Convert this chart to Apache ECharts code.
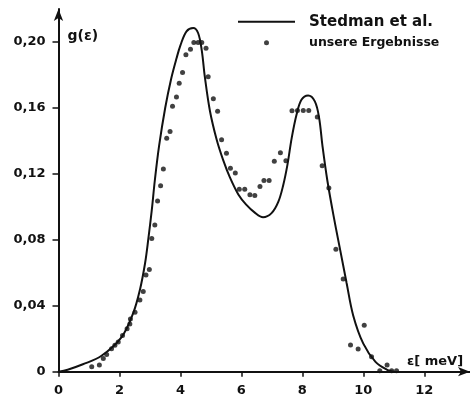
<!DOCTYPE html>
<html>
<head>
<meta charset="utf-8">
<script src="https://cdn.jsdelivr.net/npm/echarts@6/dist/echarts.min.js"></script>
<style>html,body{margin:0;padding:0;background:#fff}#c{width:470px;height:400px}</style>
</head>
<body>
<div id="c"></div>
<script>
// Stedman et al. (solid curve)
const curveX = [0, 0.3, 0.8, 1.4, 2.07, 2.45, 2.67, 2.84, 2.95, 3.06, 3.16, 3.3, 3.5, 3.7, 3.87, 4.0, 4.2, 4.42, 4.58, 4.70, 4.80, 4.97, 5.19, 5.40, 5.62, 5.90, 6.15, 6.44, 6.71, 6.99, 7.21, 7.37, 7.51, 7.65, 7.81, 7.97, 8.19, 8.41, 8.55, 8.66, 8.82, 9.04, 9.25, 9.45, 9.67, 10.0, 10.4, 10.8, 11.0];
const curveY = [0, 0.0012, 0.0045, 0.0095, 0.021, 0.0355, 0.0496, 0.0658, 0.081, 0.098, 0.116, 0.137, 0.160, 0.178, 0.190, 0.198, 0.2065, 0.2085, 0.2055, 0.195, 0.179, 0.158, 0.1407, 0.1285, 0.118, 0.1075, 0.1015, 0.0965, 0.0937, 0.0962, 0.103, 0.113, 0.1255, 0.1417, 0.156, 0.165, 0.1676, 0.164, 0.154, 0.137, 0.116, 0.093, 0.073, 0.054, 0.034, 0.017, 0.006, 0.001, 0];
// unsere Ergebnisse (dots)
const dotX = [1.09, 1.34, 1.47, 1.58, 1.74, 1.85, 1.96, 2.1, 2.25, 2.34, 2.36, 2.51, 2.67, 2.78, 2.87, 2.98, 3.06, 3.16, 3.25, 3.35, 3.44, 3.55, 3.66, 3.74, 3.87, 3.96, 4.07, 4.18, 4.33, 4.44, 4.58, 4.70, 4.84, 4.91, 5.08, 5.22, 5.35, 5.51, 5.64, 5.80, 5.93, 6.11, 6.28, 6.44, 6.61, 6.74, 6.91, 7.08, 7.28, 7.46, 7.66, 7.84, 8.03, 8.21, 8.49, 8.65, 8.87, 9.10, 9.34, 9.58, 9.83, 10.03, 10.27, 10.54, 10.78, 10.93, 11.09];
const dotY = [0.003, 0.004, 0.008, 0.0105, 0.014, 0.016, 0.018, 0.022, 0.026, 0.029, 0.032, 0.036, 0.0435, 0.0486, 0.0587, 0.062, 0.0808, 0.089, 0.1036, 0.1128, 0.123, 0.1417, 0.1457, 0.161, 0.1666, 0.175, 0.1815, 0.1923, 0.1957, 0.1997, 0.1997, 0.1997, 0.1963, 0.179, 0.1656, 0.158, 0.1407, 0.1326, 0.1235, 0.1205, 0.1107, 0.1107, 0.1073, 0.1069, 0.1123, 0.116, 0.116, 0.1277, 0.1328, 0.128, 0.1583, 0.1585, 0.1585, 0.1585, 0.1545, 0.125, 0.1114, 0.0743, 0.0563, 0.0162, 0.0138, 0.0282, 0.0091, 0.0006, 0.004, 0.0006, 0.0006];
const xTicks = [0, 2, 4, 6, 8, 10, 12];
const yTicks = [0, 0.04, 0.08, 0.12, 0.16, 0.20];
const seriesNames = ['Stedman et al.', 'unsere Ergebnisse'];
const xName = 'ε[ meV]';
const yName = 'g(ε)';

const font = 'DejaVu Sans';
const chart = echarts.init(document.getElementById('c'), null, {renderer: 'canvas'});
chart.setOption({
  backgroundColor: '#fff',
  animation: false,
  grid: {left: 58.5, right: 0, top: 9.1, bottom: 28.3, containLabel: false},
  legend: {
    orient: 'vertical', left: 233, top: 8.7,
    itemWidth: 57, itemHeight: 5, itemGap: 5,
    textStyle: {fontFamily: font, color: '#111', lineHeight: 16, padding: [0, 0, 0, 9]},
    data: [
      {name: seriesNames[0], icon: 'path://M0,0 L57,0 L57,2 L0,2 Z', itemStyle: {color: '#111'}, textStyle: {fontSize: 15, fontWeight: 'bold'}},
      {name: seriesNames[1], icon: 'circle', itemStyle: {color: '#111'}, textStyle: {fontSize: 12.5, fontWeight: 'bold'}}
    ]
  },
  xAxis: {
    type: 'value', min: 0, max: 13.5,
    name: xName, nameLocation: 'end', nameGap: -63,
    nameTextStyle: {fontFamily: font, fontSize: 13, fontWeight: 'bold', color: '#111', align: 'left', verticalAlign: 'bottom', padding: [0, 0, 4, 0]},
    axisLine: {lineStyle: {color: '#111', width: 2}, symbol: ['none', 'arrow'], symbolSize: [7, 12]},
    axisTick: {show: true, inside: false, length: 5, lineStyle: {color: '#111', width: 1.5}, customValues: xTicks},
    axisLabel: {customValues: xTicks, margin: 12, fontFamily: font, fontSize: 13, fontWeight: 'bold', color: '#111', formatter: v => String(v)},
    splitLine: {show: false}
  },
  yAxis: {
    type: 'value', min: 0, max: 0.22,
    name: yName, nameLocation: 'end', nameGap: -27,
    nameTextStyle: {fontFamily: font, fontSize: 14, fontWeight: 'bold', color: '#111', align: 'left', verticalAlign: 'middle', padding: [0, 0, 0, 9]},
    axisLine: {show: true, lineStyle: {color: '#111', width: 2}, symbol: ['none', 'arrow'], symbolSize: [7, 12]},
    axisTick: {show: true, inside: false, length: 6, lineStyle: {color: '#111', width: 1.5}, customValues: yTicks},
    axisLabel: {customValues: yTicks, margin: 13, fontFamily: font, fontSize: 13, fontWeight: 'bold', color: '#111',
      formatter: v => v === 0 ? '0' : v.toFixed(2).replace('.', ',')},
    splitLine: {show: false}
  },
  series: [
    {
      name: seriesNames[0], type: 'line', smooth: 0.35, symbol: 'none', showSymbol: false,
      lineStyle: {color: '#111', width: 2}, itemStyle: {color: '#111'},
      data: curveX.map((x, i) => [x, curveY[i]])
    },
    {
      name: seriesNames[1], type: 'scatter', symbol: 'circle', symbolSize: 5,
      itemStyle: {color: '#111'},
      data: dotX.map((x, i) => [x, dotY[i]])
    }
  ]
});
</script>
</body>
</html>
